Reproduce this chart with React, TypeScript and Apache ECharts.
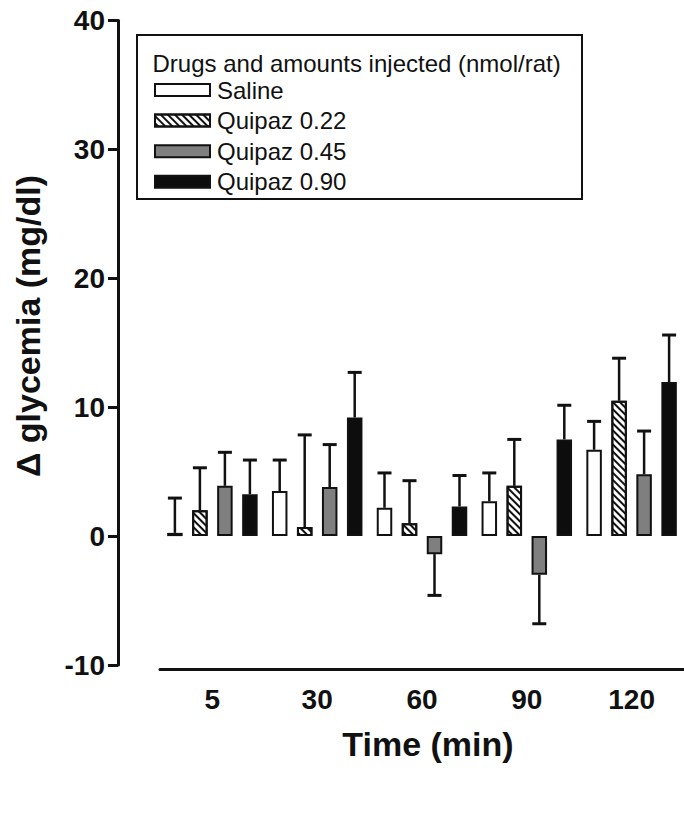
import React, { useEffect, useRef } from "react";
import * as echarts from "echarts";

const categories = ["5", "30", "60", "90", "120"];
const seriesNames = ["Saline", "Quipaz 0.22", "Quipaz 0.45", "Quipaz 0.90"];
const salineMean = [0.25, 3.5, 2.2, 2.7, 6.7];
const salineSem = [2.7, 2.4, 2.7, 2.2, 2.2];
const q022Mean = [2.0, 0.7, 1.0, 3.9, 10.5];
const q022Sem = [3.3, 7.15, 3.3, 3.6, 3.3];
const q045Mean = [3.9, 3.8, -1.4, -3.0, 4.8];
const q045Sem = [2.6, 3.3, 3.2, 3.8, 3.35];
const q090Mean = [3.25, 9.2, 2.3, 7.5, 11.95];
const q090Sem = [2.65, 3.5, 2.4, 2.65, 3.65];
const yTicks = [-10, 0, 10, 20, 30, 40];

const FONT = "'Liberation Sans', Arial, Helvetica, sans-serif";
const INK = "#111";

export default function App() {
  const ref = useRef<HTMLDivElement>(null);
  useEffect(() => {
    if (!ref.current) return;
    const chart = echarts.init(ref.current, undefined, { renderer: "svg" });
    const means = [salineMean, q022Mean, q045Mean, q090Mean];
    const sems = [salineSem, q022Sem, q045Sem, q090Sem];
    const barW = 15.5;
    const step = 25;
    const styles: any[] = [
      { color: "#ffffff", borderColor: INK, borderWidth: 2 },
      {
        color: "#ffffff",
        borderColor: INK,
        borderWidth: 2,
        decal: {
          symbol: "rect",
          symbolSize: 1,
          color: INK,
          backgroundColor: "#ffffff",
          dashArrayX: [1, 0],
          dashArrayY: [2, 2.5],
          rotation: Math.PI / 4,
        },
      },
      { color: "#7f7f7f", borderColor: INK, borderWidth: 2 },
      { color: "#0d0d0d", borderColor: INK, borderWidth: 2 },
    ];
    const bars = seriesNames.map((name, i) => ({
      name,
      type: "bar",
      barWidth: barW,
      barGap: ((step - barW) / barW) * 100 + "%",
      itemStyle: styles[i],
      data: means[i],
      z: 2,
    }));
    const errs = seriesNames.map((name, i) => {
      const offset = (i - 1.5) * step;
      return {
        name: "err " + name,
        type: "custom",
        z: 3,
        data: means[i].map((m, ci) => [ci, m, sems[i][ci]]),
        renderItem: (params: any, api: any) => {
          const ci = api.value(0);
          const m = api.value(1);
          const s = api.value(2);
          const end = m >= 0 ? m + s : m - s;
          const p0 = api.coord([ci, m]);
          const p1 = api.coord([ci, end]);
          const x = p0[0] + offset;
          return {
            type: "group",
            children: [
              { type: "line", shape: { x1: x, y1: p0[1], x2: x, y2: p1[1] }, style: { stroke: INK, lineWidth: 2.5 } },
              { type: "line", shape: { x1: x - 7, y1: p1[1], x2: x + 7, y2: p1[1] }, style: { stroke: INK, lineWidth: 3 } },
            ],
          };
        },
      };
    });
    const option: any = {
      animation: false,
      backgroundColor: "#ffffff",
      grid: { left: 160, top: 20.5, width: 526, height: 644.5 },
      legend: {
        data: seriesNames,
        orient: "vertical",
        left: 154,
        top: 78,
        padding: 0,
        itemWidth: 55,
        itemHeight: 12,
        itemGap: 6.6,
        icon: "rect",
        textStyle: { fontFamily: FONT, fontSize: 24, lineHeight: 22, color: INK, padding: [0, 0, 0, 2] },
      },
      xAxis: {
        type: "category",
        data: categories,
        offset: 4,
        axisLine: { show: true, onZero: false, lineStyle: { color: INK, width: 3 } },
        axisTick: { show: false },
        axisLabel: { margin: 16, fontFamily: FONT, fontSize: 28, fontWeight: "bold", color: INK },
      },
      yAxis: {
        type: "value",
        min: yTicks[0],
        max: yTicks[yTicks.length - 1],
        interval: 10,
        offset: 42,
        splitLine: { show: false },
        axisLine: { show: true, lineStyle: { color: INK, width: 3 } },
        axisTick: { show: true, length: 10, lineStyle: { color: INK, width: 3 } },
        axisLabel: { margin: 13, fontFamily: FONT, fontSize: 28, fontWeight: "bold", color: INK },
      },
      graphic: [
        {
          type: "rect",
          shape: { x: 137, y: 35, width: 445, height: 164 },
          style: { fill: "none", stroke: INK, lineWidth: 2 },
          z: 10,
        },
        {
          type: "text",
          x: 152.5,
          y: 63.5,
          style: {
            text: "Drugs and amounts injected (nmol/rat)",
            fontFamily: FONT,
            fontSize: 24,
            lineHeight: 22,
            fill: INK,
            align: "left",
            verticalAlign: "middle",
          },
          z: 10,
        },
        {
          type: "text",
          x: 28,
          y: 326,
          rotation: Math.PI / 2,
          style: {
            text: "Δ glycemia (mg/dl)",
            fontFamily: FONT,
            fontSize: 34,
            fontWeight: "bold",
            fill: INK,
            align: "center",
            verticalAlign: "middle",
          },
        },
        {
          type: "text",
          x: 428,
          y: 744,
          style: {
            text: "Time (min)",
            fontFamily: FONT,
            fontSize: 34,
            fontWeight: "bold",
            fill: INK,
            align: "center",
            verticalAlign: "middle",
          },
        },
      ],
      series: [...bars, ...errs],
    };
    chart.setOption(option);
    return () => chart.dispose();
  }, []);
  return (
    <div
      ref={ref}
      style={{ position: "fixed", left: 0, top: 0, width: 684, height: 823, background: "#fff" }}
    />
  );
}
